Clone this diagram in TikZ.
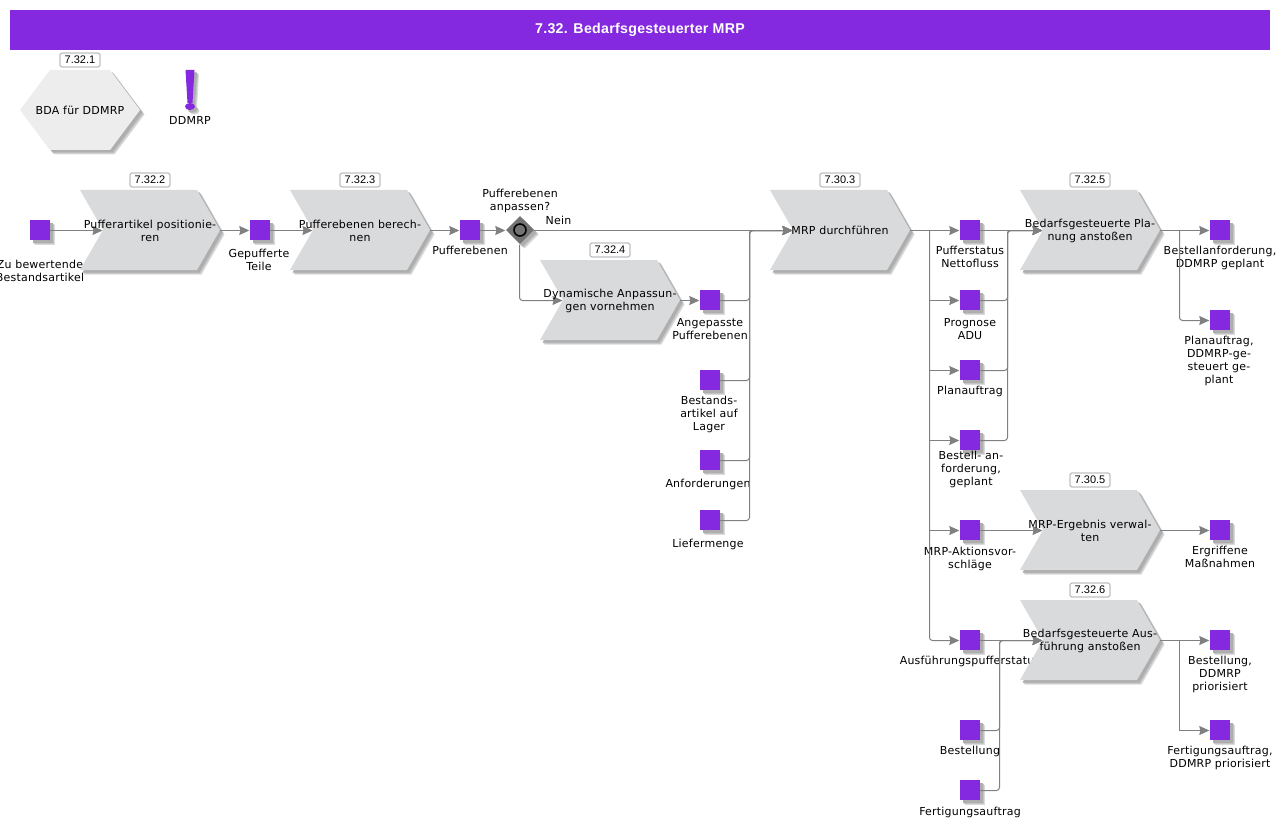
\documentclass[tikz,border=0pt]{standalone}
\usepackage{fontspec}
\setmainfont[LetterSpace=2]{DejaVu Sans}
\newfontfamily\badgefont{Liberation Sans}
\newfontfamily\titlefont[LetterSpace=2]{Liberation Sans}
\usetikzlibrary{arrows.meta,shapes.geometric,backgrounds}
\definecolor{viol}{HTML}{8429E0}
\definecolor{chevc}{HTML}{D9DADB}
\definecolor{hexc}{HTML}{EDEDED}
\definecolor{shadA}{HTML}{DADADA}
\definecolor{shadB}{HTML}{C4C4C4}
\definecolor{shadC}{HTML}{AEAEAE}
\definecolor{linec}{HTML}{808080}
\pgfdeclarelayer{labs}\pgfdeclarelayer{shapes}\pgfdeclarelayer{conns}
\pgfsetlayers{labs,shapes,conns,main}
\tikzset{
  one/.style={font=\fontsize{11}{13.2}\selectfont,align=center,inner sep=0pt,text=black},
  txt/.style={one,yshift=-1pt},
  badge/.style={draw=black!45,fill=white,rounded corners=1.5pt,minimum width=40pt,minimum height=14pt,inner sep=0pt,line width=.6pt,font=\badgefont\fontsize{11}{12}\selectfont},
  sqr/.style={fill=viol,minimum size=20pt,inner sep=0pt},
  conn/.style={draw=linec,line width=1pt,-{Stealth[length=10pt,width=9pt,inset=1pt]},rounded corners=3pt},
  chevbody/.style={fill=chevc}
}
% three offset copies give the soft shadow of the original
\newcommand{\softshadow}[1]{%
  \fill[shadA,shift={(4.5,4.5)}] #1;
  \fill[shadB,shift={(3.5,3.5)}] #1;
  \fill[shadC,shift={(2.5,2.5)}] #1;
}
\newcommand{\chev}[6][txt]{%
  \begin{pgfonlayer}{shapes}
    \softshadow{(#3-70,#4-40) -- (#3+47,#4-40) -- (#3+70,#4) -- (#3+47,#4+40) -- (#3-70,#4+40) -- (#3-47,#4) -- cycle}
    \fill[chevbody] (#3-70,#4-40) -- (#3+47,#4-40) -- (#3+70,#4) -- (#3+47,#4+40) -- (#3-70,#4+40) -- (#3-47,#4) -- cycle;
  \end{pgfonlayer}
  \node[#1] (#2) at (#3,#4) {#6};
  \node[badge] (#2b) at (#3,#4-50) {#5};
  \coordinate (#2in) at (#3-47,#4);
  \coordinate (#2out) at (#3+70,#4);
}
\newcommand{\sq}[6]{% name, x, y, label, label x offset, first line centre offset
  \begin{pgfonlayer}{labs}
    \softshadow{(#2-10,#3-10) rectangle (#2+10,#3+10)}
    \node[txt,anchor=north] (#1l) at (#2+#5,#3+#6-5.5) {#4};
  \end{pgfonlayer}
  \node[sqr] (#1) at (#2,#3) {};
}
\begin{document}
\begin{tikzpicture}[x=1pt,y=-1pt]
\useasboundingbox (0,0) rectangle (1287,829);
\node[fill=viol,minimum width=1260pt,minimum height=40pt,inner sep=0pt,text=white,font=\titlefont\bfseries\fontsize{14.2}{15}\selectfont] (title) at (640,30) {\raisebox{-1.2pt}{7.32. Bedarfsgesteuerter MRP}};
% hexagon
\begin{pgfonlayer}{shapes}
\softshadow{(20,110) -- (50,70) -- (110,70) -- (140,110) -- (110,150) -- (50,150) -- cycle}
\fill[hexc] (20,110) -- (50,70) -- (110,70) -- (140,110) -- (110,150) -- (50,150) -- cycle;
\softshadow{(185.5,70) -- (194.5,70) -- (192.5,103) -- (187.5,103) -- cycle}
\softshadow{(190,106.5) ellipse[x radius=5,y radius=3.5]}
\fill[viol] (185.5,70) -- (194.5,70) -- (192.5,103) -- (187.5,103) -- cycle;
\fill[viol] (190,106.5) ellipse[x radius=5,y radius=3.5];
\end{pgfonlayer}
\node[one] (hex) at (80,110) {BDA für DDMRP};
\node[badge] (hexb) at (80,60) {7.32.1};
\node[one] (ddmrp) at (190,120) {DDMRP};
% functions
\chev{pa}{150}{230}{7.32.2}{Pufferartikel positionie-\\ren}
\chev{pb}{360}{230}{7.32.3}{Pufferebenen berech-\\nen}
\chev{pc}{610}{300}{7.32.4}{Dynamische Anpassun-\\gen vornehmen}
\chev[one]{pd}{840}{230}{7.30.3}{MRP durchführen}
\chev{pe}{1090}{230}{7.32.5}{Bedarfsgesteuerte Pla-\\nung anstoßen}
\chev{pf}{1090}{530}{7.30.5}{MRP-Ergebnis verwal-\\ten}
\chev{pg}{1090}{640}{7.32.6}{Bedarfsgesteuerte Aus-\\führung anstoßen}
% squares
\sq{a}{40}{230}{Zu bewertende\\Bestandsartikel}{0}{34.5}
\sq{b}{260}{230}{Gepufferte\\Teile}{-1}{23}
\sq{c}{470}{230}{Pufferebenen}{0}{20}
\sq{e}{710}{300}{Angepasste\\Pufferebenen}{0}{23}
\sq{f}{710}{380}{Bestands-\\artikel auf\\Lager}{-1}{20}
\sq{g}{710}{460}{Anforderungen}{-2}{23}
\sq{h}{710}{520}{Liefermenge}{-2}{23}
\sq{i}{970}{230}{Pufferstatus\\Nettofluss}{0}{20}
\sq{j}{970}{300}{Prognose\\ADU}{0}{23}
\sq{k}{970}{370}{Planauftrag}{0}{20}
\sq{l}{970}{440}{Bestell- an-\\forderung,\\geplant}{1}{15}
\sq{m}{970}{530}{MRP-Aktionsvor-\\schläge}{0}{21}
\sq{n}{970}{640}{Ausführungspufferstatus}{0}{20}
\sq{o}{970}{730}{Bestellung}{0}{20}
\sq{q}{970}{790}{Fertigungsauftrag}{0}{21}
\sq{r}{1220}{230}{Bestellanforderung,\\DDMRP geplant}{0}{20}
\sq{s}{1220}{320}{Planauftrag,\\DDMRP-ge-\\steuert ge-\\plant}{-1}{20}
\sq{t}{1220}{530}{Ergriffene\\Maßnahmen}{0}{20}
\sq{u}{1220}{640}{Bestellung,\\DDMRP\\priorisiert}{0}{20}
\sq{v}{1220}{730}{Fertigungsauftrag,\\DDMRP priorisiert}{0}{20}
% decision
\begin{pgfonlayer}{shapes}
\softshadow{(520,216) -- (534,230) -- (520,244) -- (506,230) -- cycle}
\end{pgfonlayer}
\node[diamond,fill=linec!90!black,minimum size=28pt,inner sep=0pt,aspect=1] (d) at (520,230) {};
\node[circle,draw=black,line width=1.6pt,minimum size=12pt,inner sep=0pt] (dc) at (520,230) {};
\node[one] (dl) at (520,201) {Pufferebenen\\anpassen?};
\node[one] (nein) at (558.5,220) {Nein};
% junctions
\coordinate (ja) at (750,230);
\coordinate (jb) at (930,230);
\coordinate (jc) at (1008,230);
\coordinate (jd) at (1180,230);
\coordinate (je) at (1000,640);
\coordinate (jf) at (1180,640);
\begin{pgfonlayer}{conns}
\begin{scope}[transform canvas={shift={(-.5pt,-.5pt)}}]
\draw[conn] (a) -- (pain);
\draw[conn] (paout) -- (b);
\draw[conn] (b) -- (pbin);
\draw[conn] (pbout) -- (c);
\draw[conn] (c) -- (d);
\draw[conn] (d) -- (pdin);
\draw[conn] (d.south) |- (pcin);
\draw[conn] (pcout) -- (e);
\draw[conn] (e) -| (ja) -- (pdin);
\draw[conn] (f) -| (ja) -- (pdin);
\draw[conn] (g) -| (ja) -- (pdin);
\draw[conn] (h) -| (ja) -- (pdin);
\draw[conn] (pdout) -- (i);
\draw[conn,sharp corners] (jb) |- (j);
\draw[conn,sharp corners] (jb) |- (k);
\draw[conn,sharp corners] (jb) |- (l);
\draw[conn,sharp corners] (jb) |- (m);
\draw[conn] (jb) |- (n);
\draw[conn] (i) -- (pein);
\draw[conn] (j) -| (jc) -- (pein);
\draw[conn] (k) -| (jc) -- (pein);
\draw[conn] (l) -| (jc) -- (pein);
\draw[conn] (peout) -- (r);
\draw[conn] (jd) |- (s);
\draw[conn] (m) -- (pfin);
\draw[conn] (pfout) -- (t);
\draw[conn] (n) -- (pgin);
\draw[conn] (o) -| (je) -- (pgin);
\draw[conn] (q) -| (je) -- (pgin);
\draw[conn] (pgout) -- (u);
\draw[conn,sharp corners] (jf) |- (v);
\end{scope}
\end{pgfonlayer}
\end{tikzpicture}
\end{document}
